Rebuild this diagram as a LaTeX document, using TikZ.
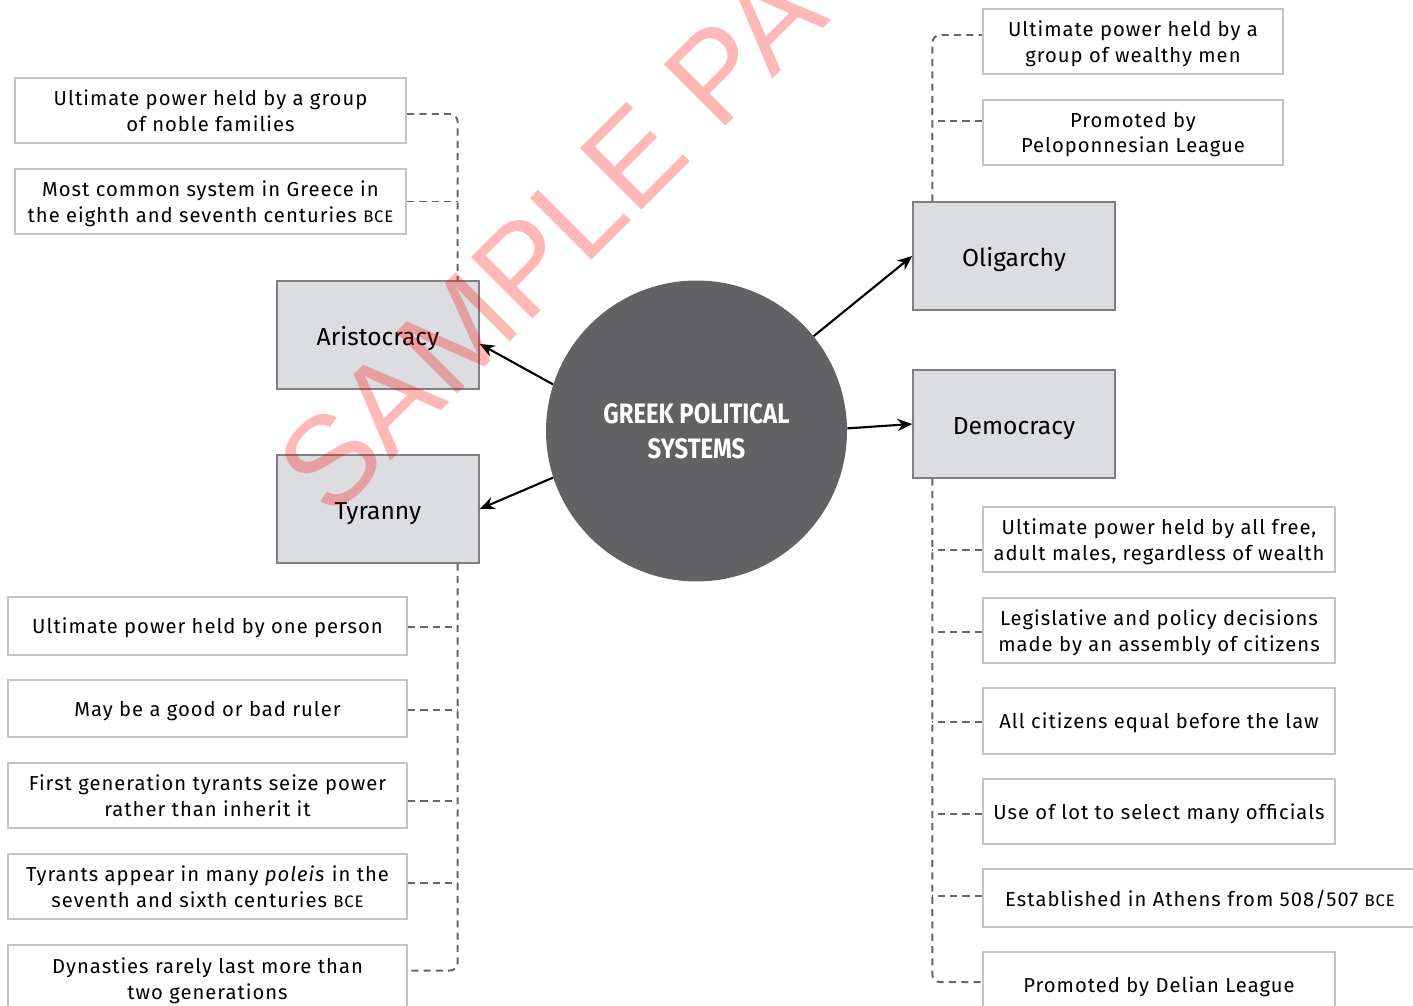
\documentclass[tikz,border=0pt]{standalone}
\usepackage{fontspec}
\setmainfont{Fira Sans}
\newfontfamily\kastenfont[LetterSpace=5]{Fira Sans}
\newfontfamily\titelfont[FakeStretch=0.85]{Fira Sans}
\newfontfamily\wasserfont{Liberation Sans}
\usetikzlibrary{arrows.meta,calc,positioning}
\definecolor{kastenrand}{HTML}{C4C4C4}
\definecolor{systemgrau}{HTML}{DCDDE0}
\definecolor{systemrand}{HTML}{808080}
\definecolor{kreisgrau}{HTML}{626264}
\definecolor{liniengrau}{HTML}{666666}
\newcommand\bcetext{{\fontsize{9.5}{14.7}\selectfont BCE}}
\tikzset{
  kasten/.style={draw=kastenrand,line width=1.4pt,fill=white,align=center,inner sep=0pt,
    minimum height=1.3cm,text depth=0pt,font=\kastenfont\fontsize{11.5}{14.7}\selectfont},
  system/.style={draw=systemrand,line width=0.8pt,fill=systemgrau,minimum width=4.04cm,
    minimum height=2.16cm,text height=11.4pt,text depth=0pt,font=\fontsize{14}{17}\selectfont},
  kreis/.style={circle,fill=kreisgrau,minimum size=6.02cm,text=white,align=center,
    font=\titelfont\bfseries\fontsize{16}{19.8}\selectfont},
  linie/.style={draw=liniengrau,line width=1.1pt,dash pattern=on 4pt off 3pt,rounded corners=4.5pt},
  pfeil/.style={line width=1.2pt,-{Stealth[length=8.5pt,width=7pt]}}
}
\begin{document}
\begin{tikzpicture}[x=0.02cm,y=-0.02cm]
\useasboundingbox (0,0) rectangle (1413,1006);
\clip (0,0) rectangle (1413,1006);
%Mitte und die vier Systeme
\node[kreis] (gps) at (696.5,431) {GREEK POLITICAL\\SYSTEMS};
\node[system] (aris) at (378,335) {Aristocracy};
\node[system] (tyr) at (378,509) {Tyranny};
\node[system] (olig) at (1014,256) {Oligarchy};
\node[system] (dem) at (1014,424) {Democracy};
\draw[pfeil] (gps.162) -- (aris.-5);
\draw[pfeil] (gps.198) -- (tyr.east);
\draw[pfeil] (gps.39) -- (olig.west);
\draw[pfeil] (gps.1) -- (dem.west);
%Aristokratie
\node[kasten,minimum width=7.82cm] (aris1) at (210.5,110.5) {Ultimate power held by a group\\of noble families};
\node[kasten,minimum width=7.82cm] (aris2) at (210.5,201.5) {Most common system in Greece in\\the eighth and seventh centuries \bcetext};
\coordinate (aspine) at ($(aris.north east)+(-22,0)$);
\draw[linie] ([yshift=-2pt]aris1.east) -| (aspine);
\coordinate (a2) at (aris2.east);
\draw[linie] (a2) -- (a2 -| aspine);
%Tyrannis
\node[kasten,minimum width=7.98cm,minimum height=1.16cm] (tyr1) at (207.5,626) {Ultimate power held by one person};
\node[kasten,minimum width=7.98cm,minimum height=1.14cm] (tyr2) at (207.5,708.5) {May be a good or bad ruler};
\node[kasten,minimum width=7.98cm] (tyr3) at (207.5,795.5) {First generation tyrants seize power\\rather than inherit it};
\node[kasten,minimum width=7.98cm] (tyr4) at (207.5,886.5) {Tyrants appear in many \emph{poleis} in the\\seventh and sixth centuries \bcetext};
\node[kasten,minimum width=7.98cm,minimum height=1.36cm] (tyr5) at (207.5,979) {Dynasties rarely last more than\\two generations};
\coordinate (tspine) at ($(tyr.south east)+(-22,0)$);
\draw[linie] (tspine) |- ([yshift=4.8pt]tyr5.east);
\foreach \k/\s in {tyr1/-0.6pt,tyr2/-0.8pt,tyr3/-3.1pt,tyr4/2pt}{
  \coordinate (p) at ([yshift=\s]\k.east);
  \draw[linie] (p) -- (p -| tspine);
}
%Oligarchie
\node[kasten,minimum width=6cm] (olig1) at (1133,41.5) {Ultimate power held by a\\group of wealthy men};
\node[kasten,minimum width=6cm] (olig2) at (1133,132.5) {Promoted by\\Peloponnesian League};
\coordinate (ospine) at ($(olig.north west)+(20,0)$);
\draw[linie] (ospine) |- ([yshift=3.7pt]olig1.west);
\coordinate (o2) at ([yshift=6.5pt]olig2.west);
\draw[linie] (o2) -- (o2 -| ospine);
%Demokratie
\node[kasten,minimum width=7.04cm] (dem1) at (1159,539.5) {Ultimate power held by all free,\\adult males, regardless of wealth};
\node[kasten,minimum width=7.04cm] (dem2) at (1159,630.5) {Legislative and policy decisions\\made by an assembly of citizens};
\node[kasten,minimum width=7.04cm,minimum height=1.32cm] (dem3) at (1159,721) {All citizens equal before the law};
\node[kasten,minimum width=7.04cm] (dem4) at (1159,811.5) {Use of lot to select many officials};
\node[kasten,minimum width=8.68cm,minimum height=1.16cm] (dem5) at (1200,898) {Established in Athens from 508/507 \bcetext};
\node[kasten,minimum width=7.04cm] (dem6) at (1159,984.5) {Promoted by Delian League};
\coordinate (dspine) at ($(dem.south west)+(20,0)$);
\draw[linie] (dspine) |- ([yshift=1.4pt]dem6.west);
\foreach \k/\s in {dem1/-6pt,dem2/-0.8pt,dem3/-0.6pt,dem4/-1.4pt,dem5/1.1pt}{
  \coordinate (p) at ([yshift=\s]\k.west);
  \draw[linie] (p) -- (p -| dspine);
}
%Wasserzeichen
\node[rotate=45,anchor=base west,text=red,opacity=0.28,inner sep=0pt,
  font=\wasserfont\fontsize{72}{72}\selectfont] (wasser) at (331,521) {SAMPLE PA};
\end{tikzpicture}
\end{document}
